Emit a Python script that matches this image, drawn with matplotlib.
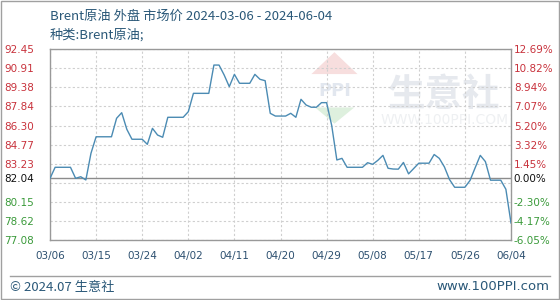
import matplotlib
matplotlib.use("Agg")
import matplotlib.pyplot as plt
from matplotlib.patches import Rectangle, Polygon
import numpy as np
import pandas as pd

# ---------------- data ----------------
start_date = "2024-03-06"
prices = [
    82.04, 82.94, 82.94, 82.94, 82.94, 82.05, 82.18, 81.92, 84.07, 85.40,
    85.40, 85.40, 85.40, 86.89, 87.34, 86.00, 85.20, 85.20, 85.20, 84.79,
    86.08, 85.54, 85.36, 86.97, 86.97, 86.97, 86.97, 87.42, 88.90, 88.90,
    88.90, 88.90, 91.18, 91.18, 90.38, 89.44, 90.43, 89.71, 89.71, 89.71,
    90.43, 90.03, 89.92, 87.29, 87.07, 87.07, 87.07, 87.29, 86.97, 88.42,
    87.96, 87.78, 87.78, 88.15, 88.15, 86.30, 83.53, 83.66, 82.94, 82.94,
    82.94, 82.94, 83.31, 83.18, 83.50, 83.90, 82.86, 82.80, 82.79, 83.33,
    82.41, 82.84, 83.27, 83.27, 83.27, 83.97, 83.66, 82.97, 81.95, 81.33,
    81.33, 81.33, 81.88, 82.90, 83.90, 83.40, 81.90, 81.90, 81.90, 81.17,
    78.45,
]
base_value = 82.04
left_ticks = [77.08, 78.62, 80.15, 82.04, 83.23, 84.77, 86.30, 87.84, 89.38, 90.91, 92.45]
left_labels = ["77.08", "78.62", "80.15", "82.04", "83.23", "84.77", "86.30",
               "87.84", "89.38", "90.91", "92.45"]
right_labels = ["-6.05%", "-4.17%", "-2.30%", "0.00%", "1.45%", "3.32%", "5.20%",
                "7.07%", "8.94%", "10.82%", "12.69%"]
extra_grid = [81.69]
x_tick_labels = ["03/06", "03/15", "03/24", "04/02", "04/11", "04/20",
                 "04/29", "05/08", "05/17", "05/26", "06/04"]
x_tick_dates = ["2024-03-06", "2024-03-15", "2024-03-24", "2024-04-02", "2024-04-11",
                "2024-04-20", "2024-04-29", "2024-05-08", "2024-05-17", "2024-05-26",
                "2024-06-04"]
title1 = "Brent原油 外盘 市场价 2024-03-06 - 2024-06-04"
title2 = "种类:Brent原油;"
footer_left = "© 2024.07 生意社"
footer_right = "www.100PPI.com"

dates = pd.date_range(start_date, periods=len(prices), freq="D")

plt.rcParams['font.family'] = ['Noto Sans CJK SC', 'DejaVu Sans']

W, H = 560, 300
fig = plt.figure(figsize=(W / 100, H / 100), dpi=100)
fig.patch.set_facecolor("white")

L, R, T, B = 50, 511, 49.3, 240
ax = fig.add_axes([L / W, 1 - B / H, (R - L) / W, (B - T) / H])
ax.set_facecolor("white")

tick_x = pd.to_datetime(x_tick_dates)
ax.set_xlim(dates[0], dates[-1])
ax.set_ylim(left_ticks[0], left_ticks[-1])

grid_col = "#cfcfcf"
for v in left_ticks + extra_grid:
    if v == base_value:
        continue
    ax.axhline(v, color=grid_col, lw=0.8, ls=(0, (2, 2)), zorder=1)
for d in tick_x:
    ax.axvline(d, color=grid_col, lw=0.8, ls=(0, (2, 2)), zorder=1)
ax.axhline(base_value, color="#8c8c8c", lw=1.0, zorder=2)

# watermark
ax.text(0.855, 0.765, "生意社", transform=ax.transAxes, fontsize=27,
        color="#e6e9ee", ha="center", va="center", fontweight="bold",
        family=['Noto Sans CJK SC'], zorder=0.5)
ax.text(0.855, 0.63, "WWW.100PPI.COM", transform=ax.transAxes, fontsize=10,
        color="#eef0f2", ha="center", va="center", family=['DejaVu Sans'], zorder=0.5)
ax.add_patch(Polygon([[0.567, 0.87], [0.667, 0.87], [0.617, 0.985]], closed=True,
                     transform=ax.transAxes, color="#f7dede", zorder=0.5, lw=0))
ax.text(0.617, 0.78, "PPI", transform=ax.transAxes, fontsize=13, color="#e2e7ef",
        ha="center", va="center", fontweight="bold", family=['DejaVu Sans'], zorder=0.5)
ax.add_patch(Polygon([[0.575, 0.695], [0.66, 0.695], [0.617, 0.61]], closed=True,
                     transform=ax.transAxes, color="#def0de", zorder=0.5, lw=0))

ax.plot(dates, prices, color="#4b8bb3", lw=1.0, zorder=3)

for s in ax.spines.values():
    s.set_color("#999999")
    s.set_linewidth(1.0)

ax.set_xticks(tick_x)
ax.set_xticklabels(x_tick_labels)
ax.tick_params(axis="x", length=0, pad=8, labelsize=7.5, labelcolor="#2d5070")
for lbl in ax.get_xticklabels():
    lbl.set_family(['DejaVu Sans'])

ax.set_yticks(left_ticks)
ax.set_yticklabels(left_labels)
ax.tick_params(axis="y", length=0, pad=11.5, labelsize=7.5)

def col(v):
    if v > base_value:
        return "#c8323c"
    if v < base_value:
        return "#3a9a3a"
    return "#111111"

for lbl, v in zip(ax.get_yticklabels(), left_ticks):
    lbl.set_color(col(v))
    lbl.set_family(['DejaVu Sans'])

ax2 = ax.twinx()
ax2.set_ylim(ax.get_ylim())
ax2.set_yticks(left_ticks)
ax2.set_yticklabels(right_labels)
ax2.tick_params(axis="y", length=0, pad=2, labelsize=7.5)
for lbl, v in zip(ax2.get_yticklabels(), left_ticks):
    lbl.set_color(col(v))
    lbl.set_family(['DejaVu Sans'])
for s in ax2.spines.values():
    s.set_visible(False)

title_col = "#2a5878"
fig.text(50 / W, 1 - 16 / H, title1, fontsize=9.5, color=title_col, ha="left", va="center")
fig.text(50 / W, 1 - 35 / H, title2, fontsize=9.5, color=title_col, ha="left", va="center")

fig.add_artist(plt.Line2D([10 / W, 550 / W], [1 - 276 / H, 1 - 276 / H],
                          color="#a0a0a0", lw=1.0))
fig.text(10 / W, 1 - 287 / H, footer_left, fontsize=9.5, color=title_col, ha="left", va="center")
fig.text(549 / W, 1 - 287 / H, footer_right, fontsize=9.5, color=title_col, ha="right", va="center",
         family=['DejaVu Sans'])

fig.add_artist(Rectangle((0.0009, 0.0017), 0.9982, 0.9966, transform=fig.transFigure,
                         fill=False, edgecolor="#a0a0a0", lw=1.0))

fig.savefig("out.png", dpi=100, facecolor="white")
